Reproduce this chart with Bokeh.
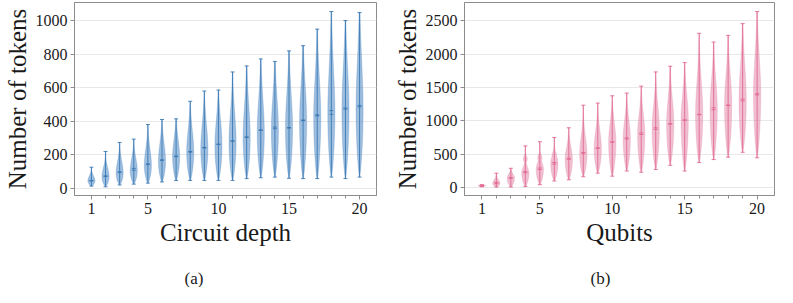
import numpy as np
from bokeh.plotting import figure
from bokeh.layouts import row
from bokeh.models import FixedTicker, Range1d, Title
from bokeh.embed import file_html
from bokeh.resources import INLINE

# ---------------- data ----------------
positions = list(range(1, 21))

# (a) Circuit depth
depth_min = [13, 9, 20, 25, 31, 38, 47, 47, 47, 47, 47, 58, 63, 67, 60, 58, 58, 67, 58, 67]
depth_max = [126, 220, 274, 294, 381, 411, 415, 520, 581, 587, 695, 731, 773, 758, 821, 852, 951, 1056, 1002, 1050]
depth_mean = [47, 74, 99, 119, 146, 170, 192, 220, 244, 264, 284, 307, 349, 366, 363, 408, 439, 464, 480, 495]
depth_median = [44, 71, 94, 108, 142, 167, 189, 216, 241, 262, 281, 304, 346, 356, 360, 405, 433, 442, 473, 486]
depth_mode = [45, 70, 90, 105, 135, 160, 185, 215, 235, 255, 275, 300, 330, 345, 355, 395, 420, 445, 460, 470]
depth_spread = [0.35, 0.35, 0.38, 0.38, 0.4, 0.42, 0.45, 0.42, 0.42, 0.45, 0.42, 0.45, 0.45, 0.47, 0.45, 0.47, 0.45, 0.45, 0.48, 0.5]
depth_bump_y = [0] * 20
depth_bump_w = [0] * 20

# (b) Qubits
qubit_min = [14, 9, 9, 18, 45, 100, 118, 163, 217, 172, 249, 231, 272, 335, 249, 376, 421, 457, 530, 448]
qubit_max = [45, 217, 290, 625, 688, 752, 897, 1236, 1268, 1377, 1418, 1522, 1735, 1821, 1875, 2314, 2183, 2283, 2459, 2640]
qubit_mean = [28, 77, 150, 240, 294, 376, 440, 528, 595, 686, 747, 820, 897, 958, 1016, 1098, 1196, 1238, 1327, 1409]
qubit_median = [27, 59, 140, 222, 272, 353, 425, 515, 590, 682, 729, 797, 874, 954, 1010, 1094, 1168, 1232, 1300, 1390]
qubit_mode = [30, 62, 145, 215, 275, 360, 420, 500, 580, 680, 730, 800, 880, 950, 1010, 1100, 1180, 1240, 1300, 1400]
qubit_spread = [0.6, 0.35, 0.4, 0.22, 0.25, 0.3, 0.38, 0.35, 0.38, 0.4, 0.4, 0.4, 0.4, 0.42, 0.42, 0.4, 0.42, 0.42, 0.45, 0.45]
qubit_bump_y = [0, 0, 0, 430, 450, 490, 0, 0, 0, 0, 0, 0, 0, 0, 0, 0, 0, 0, 0, 0]
qubit_bump_w = [0, 0, 0, 0.55, 0.6, 0.6, 0, 0, 0, 0, 0, 0, 0, 0, 0, 0, 0, 0, 0, 0]

depth_yticks = [0, 200, 400, 600, 800, 1000]
qubit_yticks = [0, 500, 1000, 1500, 2000, 2500]
x_major = [1, 5, 10, 15, 20]

SERIF = "Liberation Serif"
HALF = 0.25   # half of violin width (matplotlib widths=0.5)
CAP = 0.14


def outline(x, lo, hi, mode, spread, by, bw, n=90):
    ys = np.linspace(lo, hi, n)
    w = np.empty(n)
    below = ys <= mode
    t = (ys[below] - lo) / max(mode - lo, 1e-9)
    w[below] = np.sin(np.pi / 2 * t) ** 0.7
    s = (ys[~below] - mode) / max(hi - mode, 1e-9)
    w[~below] = np.exp(-0.5 * (s / spread) ** 2)
    if bw > 0:
        bs = 0.07 * (hi - lo)
        w = np.maximum(w, bw * np.exp(-0.5 * ((ys - by) / bs) ** 2))
    w = np.maximum(w, 0.04)
    xs = np.concatenate([x - HALF * w, (x + HALF * w)[::-1]])
    yy = np.concatenate([ys, ys[::-1]])
    return list(xs), list(yy)


def panel(vmin, vmax, vmean, vmed, vmode, vspread, bys, bws, yticks, yr,
          xlabel, caption, fill, line, width, border_right, cap_offset):
    p = figure(width=width, height=287, output_backend="svg", toolbar_location=None,
               x_range=Range1d(-0.2, 21.2), y_range=Range1d(*yr),
               min_border_left=0, min_border_right=border_right,
               min_border_top=2, min_border_bottom=0)
    xs_all, ys_all = [], []
    for i, x in enumerate(positions):
        xs, ys = outline(x, vmin[i], vmax[i], vmode[i], vspread[i], bys[i], bws[i])
        xs_all.append(xs)
        ys_all.append(ys)
    p.patches(xs_all, ys_all, fill_color=fill, fill_alpha=0.5,
              line_color=fill, line_alpha=0.25, line_width=1)
    px = np.array(positions, dtype=float)
    # vertical bar
    p.segment(x0=px, y0=vmin, x1=px, y1=vmax, line_color=line, line_width=1, line_alpha=0.85)
    # caps, mean, median
    for arr in (vmin, vmax, vmean, vmed):
        p.segment(x0=px - CAP, y0=arr, x1=px + CAP, y1=arr,
                  line_color=line, line_width=1, line_alpha=0.85)

    p.xaxis.ticker = FixedTicker(ticks=x_major, minor_ticks=positions)
    p.yaxis.ticker = FixedTicker(ticks=yticks)
    p.xgrid.visible = False
    p.ygrid.grid_line_color = "#e8e8e8"
    p.ygrid.grid_line_width = 1
    p.outline_line_color = "#8c8c8c"
    p.outline_line_width = 1
    for ax in (p.xaxis, p.yaxis):
        ax.axis_line_color = "#8c8c8c"
        ax.major_tick_line_color = "#8c8c8c"
        ax.minor_tick_line_color = "#8c8c8c"
        ax.major_tick_in = 0
        ax.major_tick_out = 4
        ax.minor_tick_in = 0
        ax.minor_tick_out = 3
        ax.major_label_text_font = SERIF
        ax.major_label_text_font_size = "16px"
        ax.major_label_text_color = "#1a1a1a"
        ax.axis_label_text_font = SERIF
        ax.axis_label_text_font_size = "25px"
        ax.axis_label_text_font_style = "normal"
        ax.axis_label_text_color = "#1a1a1a"
        ax.major_label_standoff = 3
        ax.axis_label_standoff = 2
    p.yaxis.minor_tick_line_color = None
    p.xaxis.axis_label = xlabel
    p.yaxis.axis_label = "Number of tokens"
    # spacer between the axis label and the sub-figure caption
    p.add_layout(Title(text=" ", text_font_size="14px", standoff=0), "below")
    p.add_layout(Title(text=caption, align="left", offset=cap_offset,
                       text_font=SERIF, text_font_size="17px",
                       text_font_style="normal", text_color="#1a1a1a",
                       standoff=0), "below")
    p.background_fill_color = "white"
    p.border_fill_color = "white"
    return p


p1 = panel(depth_min, depth_max, depth_mean, depth_median, depth_mode, depth_spread,
           depth_bump_y, depth_bump_w, depth_yticks, (-43, 1110),
           "Circuit depth", "(a)", "#3b7dbf", "#3574b0", 390, 14, 110)
p2 = panel(qubit_min, qubit_max, qubit_mean, qubit_median, qubit_mode, qubit_spread,
           qubit_bump_y, qubit_bump_w, qubit_yticks, (-118, 2776),
           "Qubits", "(b)", "#e27fa3", "#e0648f", 387, 3, 126)

layout = row(p1, p2)
open("out.html", "w").write(file_html(layout, INLINE))
